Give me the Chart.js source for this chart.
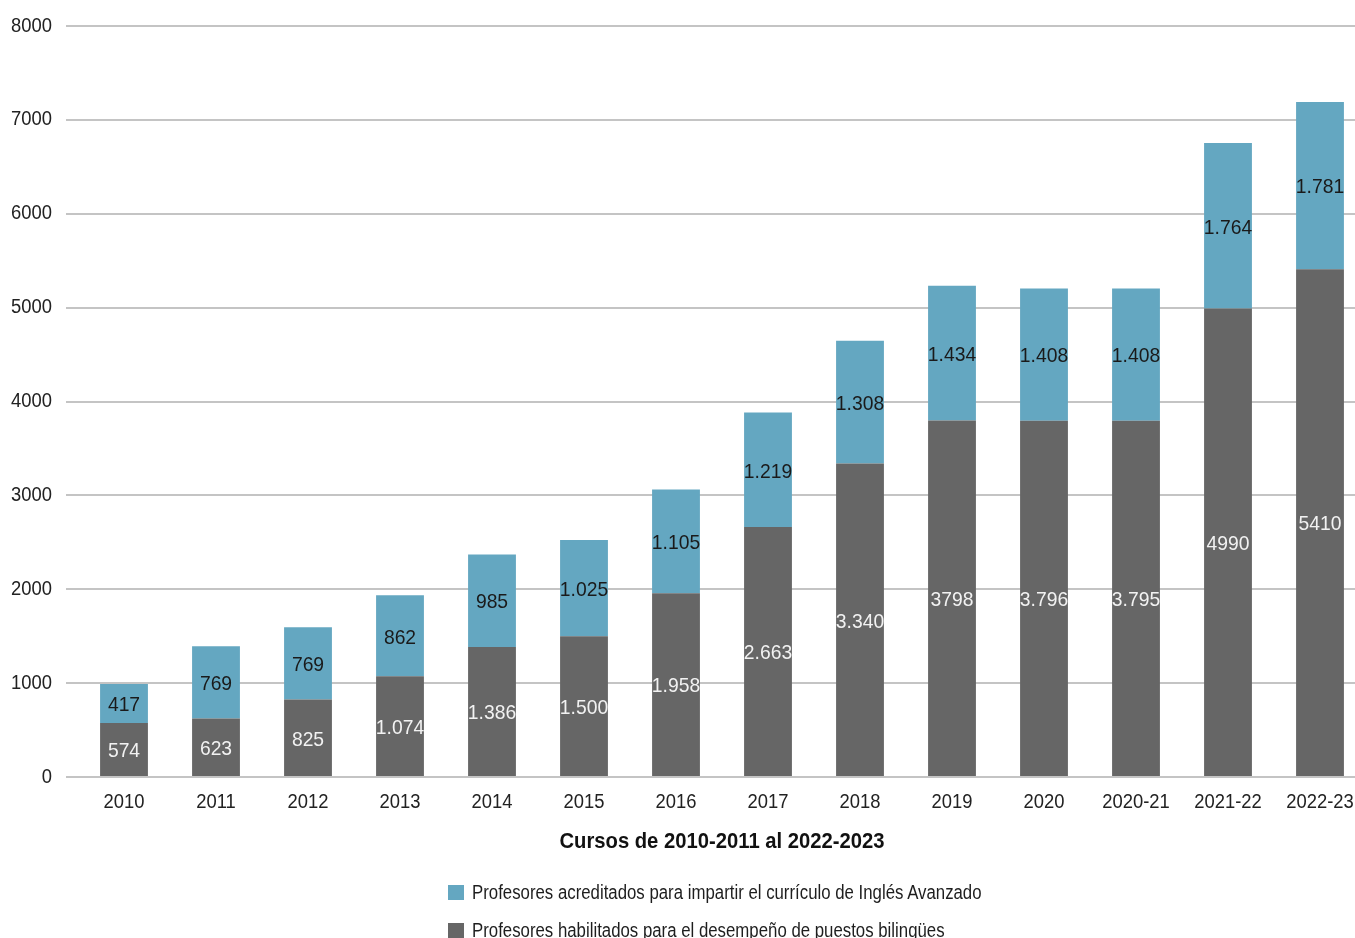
<!DOCTYPE html>
<html lang="es">
<head>
<meta charset="utf-8">
<title>Profesorado bilingüe</title>
<script src="https://cdn.jsdelivr.net/npm/chart.js@4.4.1/dist/chart.umd.min.js"></script>
<style>
  html, body { margin: 0; padding: 0; background: #fff; overflow: hidden; width: 1355px; height: 938px; }
  #wrap { position: relative; width: 1372px; height: 938px; }
  #chart { display: block; }
  #legend {
    position: absolute; left: 448px; top: 873px;
    font-family: "Liberation Sans", Arial, sans-serif;
    font-size: 20px; color: #1e1e1e;
  }
  #legend .item { display: flex; align-items: center; height: 38px; white-space: nowrap; }
  #legend .box { width: 16px; height: 15px; margin-right: 8px; flex: none; }
  #legend .txt { display: inline-block; transform: scaleX(0.84); transform-origin: left center; }
</style>
</head>
<body>
<div id="wrap">
  <canvas id="chart" width="1372" height="938"></canvas>
  <div id="legend"></div>
</div>
<script>
// Cursos escolares
const categories = ['2010', '2011', '2012', '2013', '2014', '2015', '2016', '2017',
                    '2018', '2019', '2020', '2020-21', '2021-22', '2022-23'];

// Profesores habilitados (parte inferior de cada barra), tal como se rotulan
const habilitadosLabels = ['574', '623', '825', '1.074', '1.386', '1.500', '1.958', '2.663',
                           '3.340', '3798', '3.796', '3.795', '4990', '5410'];

// Profesores acreditados para Inglés Avanzado (parte superior), tal como se rotulan
const acreditadosLabels = ['417', '769', '769', '862', '985', '1.025', '1.105', '1.219',
                           '1.308', '1.434', '1.408', '1.408', '1.764', '1.781'];

// Marcas del eje vertical
const yTicks = [0, 1000, 2000, 3000, 4000, 5000, 6000, 7000, 8000];

// Valores numéricos obtenidos de los rótulos ("." = separador de miles)
const toNumber = s => Number(s.replace(/\./g, ''));
const habilitados = habilitadosLabels.map(toNumber);
const acreditados = acreditadosLabels.map(toNumber);

const FONT = '"Liberation Sans", Arial, sans-serif';
const COLOR_DARK = '#666666';
const COLOR_BLUE = '#64a7c1';

// Tipografía estrecha: todo el texto del lienzo se comprime en horizontal
const SQUEEZE = 0.92;
const canvas = document.getElementById('chart');
const ctx2d = canvas.getContext('2d');
const plainFillText = ctx2d.fillText.bind(ctx2d);
ctx2d.fillText = function (text, x, y, maxWidth) {
  this.save();
  this.translate(x, y);
  this.scale(SQUEEZE, 1);
  if (maxWidth === undefined) plainFillText(text, 0, 0);
  else plainFillText(text, 0, 0, maxWidth / SQUEEZE);
  this.restore();
};

// Rótulos centrados dentro de cada segmento
const segmentLabels = {
  id: 'segmentLabels',
  afterDatasetsDraw(chart) {
    const ctx = chart.ctx;
    ctx.save();
    ctx.font = '21px ' + FONT;
    ctx.textAlign = 'center';
    ctx.textBaseline = 'middle';
    chart.data.datasets.forEach((ds, di) => {
      const meta = chart.getDatasetMeta(di);
      meta.data.forEach((bar, i) => {
        const { x, y, base } = bar.getProps(['x', 'y', 'base'], true);
        ctx.fillStyle = ds.labelColor;
        ctx.fillText(ds.labelTexts[i], x, (y + base) / 2 + 2);
      });
    });
    ctx.restore();
  }
};

const chart = new Chart(ctx2d, {
  type: 'bar',
  data: {
    labels: categories,
    datasets: [
      {
        label: 'Profesores habilitados para el desempeño de puestos bilingües',
        data: habilitados,
        labelTexts: habilitadosLabels,
        labelColor: '#f2f2f2',
        backgroundColor: COLOR_DARK,
        barPercentage: 0.52,
        categoryPercentage: 1
      },
      {
        label: 'Profesores acreditados para impartir el currículo de Inglés Avanzado',
        data: acreditados,
        labelTexts: acreditadosLabels,
        labelColor: '#1a1a1a',
        backgroundColor: COLOR_BLUE,
        barPercentage: 0.52,
        categoryPercentage: 1
      }
    ]
  },
  options: {
    responsive: false,
    animation: false,
    devicePixelRatio: 1,
    layout: { padding: { top: 24, right: 6, left: 0, bottom: 0 } },
    plugins: {
      legend: { display: false },
      tooltip: { enabled: false }
    },
    scales: {
      x: {
        stacked: true,
        grid: { display: false, drawTicks: false },
        border: { display: false },
        ticks: {
          color: '#222',
          font: { family: FONT, size: 20 },
          padding: 13,
          maxRotation: 0,
          autoSkip: false
        },
        title: {
          display: true,
          text: 'Cursos de 2010-2011 al 2022-2023',
          color: '#111',
          font: { family: FONT, size: 22, weight: 'bold', lineHeight: 1.2 },
          padding: { top: 0, bottom: 83 }
        },
        afterFit(scale) { scale.height = 161; }
      },
      y: {
        stacked: true,
        min: 0,
        max: 8000,
        afterBuildTicks(scale) { scale.ticks = yTicks.map(v => ({ value: v })); },
        grid: { color: '#c4c4c4', lineWidth: 2, drawTicks: true, tickLength: 12 },
        border: { display: false },
        ticks: {
          color: '#222',
          font: { family: FONT, size: 20 },
          padding: 14,
          callback: v => String(v)
        },
        afterFit(scale) { scale.width = 78; }
      }
    }
  },
  plugins: [segmentLabels]
});

// Leyenda en columna bajo el gráfico, en el orden de apilado (de arriba abajo)
const legendEl = document.getElementById('legend');
chart.data.datasets.slice().reverse().forEach(ds => {
  const item = document.createElement('div');
  item.className = 'item';
  const box = document.createElement('span');
  box.className = 'box';
  box.style.background = ds.backgroundColor;
  const txt = document.createElement('span');
  txt.className = 'txt';
  txt.textContent = ds.label;
  item.appendChild(box);
  item.appendChild(txt);
  legendEl.appendChild(item);
});
</script>
</body>
</html>
